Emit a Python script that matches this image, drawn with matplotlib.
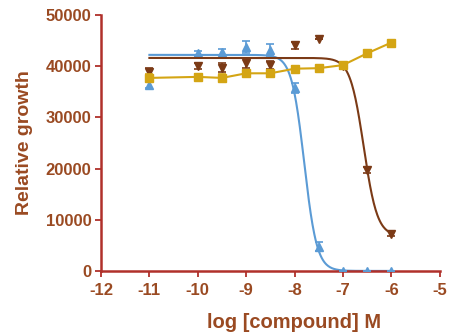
import numpy as np
import matplotlib
matplotlib.use("Agg")
import matplotlib.pyplot as plt

plt.rcParams['font.family'] = ['Liberation Sans', 'DejaVu Sans']
plt.rcParams['axes.unicode_minus'] = False

# log10 of compound concentration (M)
log_conc = [-11, -10, -9.5, -9, -8.5, -8, -7.5, -7, -6.5, -6]

blue_mean = [36300, 42500, 42800, 43800, 43200, 35700, 4700, 0, 0, 0]
blue_err = [600, 500, 600, 1200, 1200, 1000, 900, 0, 0, 0]

brown_mean = [38800, 40000, 39700, 40600, 40200, 44100, 45300, 40000, 19700, 7300]
brown_err = [800, 600, 900, 900, 800, 700, 0, 600, 600, 500]

gold_mean = [37700, 37900, 37700, 38600, 38600, 39500, 39600, 40200, 42500, 44600]
gold_err = [700, 600, 700, 600, 600, 500, 500, 500, 500, 400]

# four-parameter logistic fits: top, bottom, logIC50, hill slope
blue_fit = (42200, 0, -7.8, 3.3)
brown_fit = (41600, 6800, -6.57, 3.1)

c_blue = '#5B9BD5'
c_brown = '#7B3A16'
c_gold = '#D4A514'
c_axis = '#B0302A'
c_text = '#9A4A22'


def logistic(x, top, bottom, logic50, hill):
    return bottom + (top - bottom) / (1 + 10 ** ((x - logic50) * hill))


fig = plt.figure(figsize=(4.54, 3.32), dpi=100)
ax = fig.add_axes([0.2225, 0.184, 0.746, 0.771])

xs = np.linspace(min(log_conc), max(log_conc), 400)

ax.plot(xs, logistic(xs, *blue_fit), color=c_blue, lw=1.5, zorder=2)
ax.errorbar(log_conc, blue_mean, yerr=blue_err, fmt='^', color=c_blue,
            ms=6, capsize=3, elinewidth=1.2, capthick=1.2, zorder=3)

ax.plot(xs, logistic(xs, *brown_fit), color=c_brown, lw=1.5, zorder=4)
ax.errorbar(log_conc, brown_mean, yerr=brown_err, fmt='v', color=c_brown,
            ms=6, capsize=3, elinewidth=1.2, capthick=1.2, zorder=5)

ax.plot(log_conc, gold_mean, color=c_gold, lw=1.5, zorder=6)
ax.errorbar(log_conc, gold_mean, yerr=gold_err, fmt='s', color=c_gold,
            ms=6, capsize=3, elinewidth=1.2, capthick=1.2, zorder=7)

ax.set_xlim(-12, -5)
ax.set_ylim(0, 50000)
ax.set_xticks(range(-12, -4))
ax.set_yticks(range(0, 50001, 10000))

for side in ('top', 'right'):
    ax.spines[side].set_visible(False)
for side in ('left', 'bottom'):
    ax.spines[side].set_color(c_axis)
    ax.spines[side].set_linewidth(1.8)

ax.tick_params(colors=c_axis, width=1.3, length=4, labelcolor=c_text,
               labelsize=12)
ax.tick_params(axis='x', pad=5)
ax.tick_params(axis='y', pad=3)
for lbl in ax.get_xticklabels() + ax.get_yticklabels():
    lbl.set_fontweight('bold')

ax.set_xlabel('log [compound] M', color=c_text, fontsize=14.5,
              fontweight='bold')
ax.xaxis.set_label_coords(0.57, -0.165)
ax.set_ylabel('Relative growth', color=c_text, fontsize=14,
              fontweight='bold', labelpad=9)

fig.savefig('out.png', dpi=100)
